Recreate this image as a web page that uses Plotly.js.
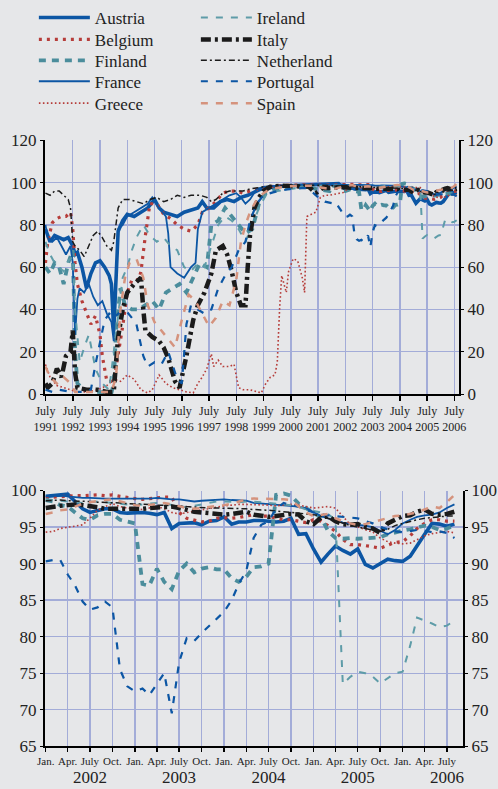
<!DOCTYPE html>
<html><head><meta charset="utf-8">
<script src="https://cdn.plot.ly/plotly-3.0.1.min.js"></script>
<style>html,body{margin:0;padding:0;background:#e6e7e9;}#chart{width:498px;height:789px;}</style>
</head><body><div id="chart"></div>
<script>
// ---------- DATA ----------
// Early (1991-2001) readings, irregular dates
const austriaEarlyDates = ["1991-07","1991-09","1991-11","1992-01","1992-03","1992-05","1992-07","1992-08","1992-09","1992-11","1993-01","1993-03","1993-05","1993-07","1993-09","1993-11","1993-12","1994-01","1994-02","1994-03","1994-05","1994-07","1994-10","1995-01","1995-04","1995-07","1995-09","1995-11","1996-02","1996-05","1996-08","1996-11","1997-02","1997-04","1997-06","1997-09","1997-12","1998-03","1998-06","1998-09","1998-12","1999-03","1999-06","1999-09","1999-12","2000-06","2000-12","2001-06","2001-12"];
const austriaEarlyValues = [78,72,75,74,73,74,70,66,67,60,50,57,62,63,60,56,52,30,58,77,82,85,84,86,88,92,88,86,85,84,86,87,88,91,88,88,91,92,91,93,94,95.5,97,97.5,98,98.5,98.8,99,99.2];

const belgiumEarlyDates = ["1991-07","1991-08","1991-10","1991-12","1992-02","1992-04","1992-06","1992-07","1992-08","1992-09","1992-11","1993-01","1993-03","1993-05","1993-07","1993-08","1993-09","1993-10","1994-01","1994-03","1994-05","1994-07","1994-09","1994-12","1995-01","1995-03","1995-05","1995-08","1995-11","1996-02","1996-05","1996-08","1996-11","1997-02","1997-04","1997-07","1997-10","1998-01","1998-04","1998-07","1998-10","1999-01","1999-06","2000-01","2000-07","2001-01","2001-07","2001-12"];
const belgiumEarlyValues = [62,72,81,83,84,84,86,78,62,52,44,38,33,37,28,18,12,6,6,18,32,48,54,54,58,75,90,90,85,83,80,78,77,80,86,88,91,95,96,96,95,96,97.5,98.5,98.8,99,98.8,99];

const finlandEarlyDates = ["1991-07","1991-09","1991-11","1992-01","1992-03","1992-05","1992-07","1992-08","1992-09","1992-12","1993-06","1993-12","1994-01","1994-02","1994-04","1994-06","1994-09","1994-12","1995-03","1995-06","1995-09","1995-12","1996-03","1996-06","1996-09","1996-12","1997-03","1997-06","1997-08","1997-11","1998-02","1998-05","1998-08","1998-11","1999-02","1999-05","1999-08","2000-01","2000-07","2001-01","2001-06","2001-12"];
const finlandEarlyValues = [60,57,62,60,52,62,68,20,5,2,1,0.5,5,30,50,42,40,40,42,44,40,48,50,52,48,55,62,60,80,82,88,84,80,76,78,90,95,97,98,98.5,97,96];

const franceEarlyDates = ["1991-07","1991-08","1991-10","1991-12","1992-02","1992-04","1992-06","1992-07","1992-08","1992-09","1992-10","1992-12","1993-02","1993-04","1993-06","1993-08","1993-10","1993-12","1994-01","1994-02","1994-03","1994-05","1994-07","1994-10","1995-01","1995-04","1995-06","1995-09","1995-12","1996-01","1996-02","1996-05","1996-08","1996-11","1997-01","1997-02","1997-04","1997-07","1997-10","1998-01","1998-04","1998-07","1998-09","1998-11","1999-01","1999-04","1999-07","2000-01","2000-07","2001-01","2001-07","2001-12"];
const franceEarlyValues = [80,74,72,74,70,66,70,62,28,45,50,48,52,46,42,44,38,34,25,50,78,80,84,86,88,90,93,88,84,76,60,57,55,60,62,78,86,88,90,92,94,95,93,90,92,97,98,98.5,98.8,99,99,99.1];

const greeceEarlyDates = ["1991-07","1991-09","1991-12","1992-03","1992-06","1992-09","1993-01","1993-06","1993-10","1994-01","1994-04","1994-07","1994-10","1995-01","1995-04","1995-06","1995-09","1995-12","1996-03","1996-06","1996-09","1996-12","1997-02","1997-04","1997-06","1997-08","1997-09","1997-11","1998-01","1998-04","1998-06","1998-08","1998-10","1999-01","1999-04","1999-06","1999-08","1999-10","1999-12","2000-01","2000-02","2000-03","2000-05","2000-06","2000-08","2000-10","2000-12","2001-01","2001-02","2001-04","2001-06","2001-08","2001-10","2001-12"];
const greeceEarlyValues = [14,8,4,3,2,1,1,2,4,7,6,9,7,2,0.5,2,9,5,3,2,1,0.5,5,8,12,19,13,16,13,13,14,3,2,2,1,0.5,5,8,9,15,40,56,48,58,64,63,55,48,84,85,86,93,94,94];

const irelandEarlyDates = ["1991-07","1991-09","1991-11","1992-01","1992-03","1992-05","1992-07","1992-08","1992-10","1992-12","1993-02","1993-05","1993-08","1993-11","1994-01","1994-03","1994-05","1994-07","1994-09","1994-11","1995-02","1995-05","1995-08","1995-11","1996-02","1996-05","1996-08","1996-11","1997-02","1997-05","1997-08","1997-11","1998-02","1998-05","1998-08","1998-11","1999-02","1999-05","1999-08","2000-01","2000-07","2001-01","2001-07","2001-12"];
const irelandEarlyValues = [72,66,62,60,58,63,65,40,15,22,28,12,5,2,20,38,55,60,68,74,80,75,72,74,70,68,60,58,62,60,70,80,84,82,78,72,80,88,94,96,97,98,98.5,98.6];

const italyEarlyDates = ["1991-07","1991-08","1991-10","1991-12","1992-02","1992-04","1992-06","1992-07","1992-08","1992-09","1993-01","1993-06","1993-10","1994-01","1994-02","1994-03","1994-05","1994-07","1994-10","1995-01","1995-02","1995-03","1995-06","1995-09","1995-11","1996-01","1996-04","1996-06","1996-09","1996-12","1997-02","1997-05","1997-08","1997-10","1998-01","1998-03","1998-05","1998-07","1998-09","1998-11","1998-12","1999-01","1999-03","1999-05","1999-07","1999-10","2000-03","2000-09","2001-03","2001-06","2001-09","2001-12"];
const italyEarlyValues = [5,3,5,12,8,18,20,30,10,3,2,2,1,1,15,27,40,48,52,55,40,30,27,25,22,17,6,3,18,35,42,48,57,68,70,66,58,48,42,42,60,75,88,93,96,98,98.5,98.5,98,95,97.5,97.5];

const netherlandEarlyDates = ["1991-07","1991-09","1991-11","1992-01","1992-03","1992-05","1992-06","1992-07","1992-08","1992-10","1992-12","1993-02","1993-04","1993-06","1993-08","1993-10","1993-12","1994-01","1994-03","1994-05","1994-08","1994-11","1995-02","1995-05","1995-08","1995-11","1996-02","1996-05","1996-08","1996-11","1997-03","1997-06","1997-08","1997-10","1998-01","1998-04","1998-07","1998-10","1999-01","1999-07","2000-01","2000-07","2001-01","2001-07","2001-12"];
const netherlandEarlyValues = [95,94,96,96,94,92,88,72,70,68,65,70,75,77,74,70,68,72,88,92,92,91,90,92,93,91,92,94,93,94,94,93,91,92,95,96,96,96,97,98,98.5,98.8,98.8,98.8,98.6];

const portugalEarlyDates = ["1991-07","1991-10","1992-01","1992-06","1993-01","1993-03","1993-05","1993-07","1993-09","1993-11","1994-01","1994-03","1994-06","1994-09","1994-11","1995-02","1995-04","1995-07","1995-10","1996-01","1996-03","1996-05","1996-07","1996-09","1996-11","1997-02","1997-05","1997-08","1997-11","1998-02","1998-05","1998-08","1998-11","1999-01","1999-04","1999-07","2000-01","2000-07","2001-01","2001-05","2001-07","2001-10","2001-12"];
const portugalEarlyValues = [2,1,2,1,1,2,14,25,35,38,36,38,40,36,33,18,13,15,14,20,13,7,5,33,42,40,38,40,50,56,60,68,72,82,90,94,96,97,97.5,95,93,91,90.5];

const spainEarlyDates = ["1991-07","1991-09","1991-12","1992-03","1992-06","1992-08","1993-01","1993-06","1993-12","1994-02","1994-04","1994-06","1994-08","1994-11","1995-02","1995-04","1995-07","1995-10","1996-01","1996-04","1996-07","1996-10","1997-01","1997-04","1997-07","1997-10","1998-01","1998-04","1998-07","1998-09","1998-11","1999-01","1999-04","1999-07","1999-10","2000-04","2000-10","2001-04","2001-10","2001-12"];
const spainEarlyValues = [13,8,5,8,5,1,1,1,1,8,40,55,62,64,55,42,34,30,26,22,35,47,44,38,32,36,44,42,54,72,80,86,92,95,97,98,98.5,98.5,97.5,97];

// Monthly readings, January 2002 to August 2006 (56 months)
const monthlyStartYear = 2002;
const austriaMonthly = [99.2,99.3,99.5,99.5,98.5,97.5,97.0,97.3,97.5,97.5,97.0,96.9,
  97.0,97.0,96.9,96.7,97.0,94.8,95.5,95.6,95.6,95.3,95.8,95.9,
  96.4,95.4,95.7,95.7,95.9,95.9,95.8,95.7,95.8,96.2,94.0,94.1,
  92.0,90.2,91.3,92.4,91.8,91.3,92.0,89.9,89.4,90.0,90.6,90.4,
  90.3,91.0,92.5,94.0,95.5,95.4,95.1,95.4];
const belgiumMonthly = [99.0,99.1,99.2,99.2,99.3,99.3,99.4,99.4,99.3,99.4,99.2,99.0,
  98.9,98.8,98.9,99.0,99.1,99.1,97.0,96.2,95.9,95.7,95.8,96.2,
  96.3,96.2,96.3,96.5,96.7,96.5,96.5,96.2,96.0,96.0,95.8,95.6,
  96.0,95.8,95.2,94.4,93.3,92.6,92.6,92.5,92.3,92.1,92.5,92.9,
  93.0,93.8,94.8,95.5,96.0,96.0,95.8,95.8];
const finlandMonthly = [98.7,98.5,98.0,97.8,97.0,96.2,96.0,96.6,96.8,96.8,96.0,95.8,
  95.5,87.2,87.0,89.3,87.5,86.5,89.0,90.0,88.8,89.3,89.5,89.2,
  89.2,88.0,87.5,88.2,89.5,89.6,90.0,99.4,99.6,99.3,98.2,97.6,
  97.0,96.3,94.5,93.5,93.4,93.5,93.4,93.5,93.5,93.6,94.0,94.3,
  94.5,94.7,95.0,95.2,95.0,94.6,94.8,95.2];
const franceMonthly = [99.2,99.3,99.3,99.2,99.1,99.0,99.0,98.9,98.9,98.9,98.9,98.8,
  98.8,98.8,98.9,99.0,98.9,98.8,98.8,98.6,98.5,98.6,98.7,98.7,
  98.8,98.7,98.7,98.6,98.3,98.2,98.1,98.0,98.0,97.9,97.8,97.6,
  97.0,96.5,96.2,96.0,95.6,95.4,95.3,95.2,95.0,94.5,94.0,94.6,
  95.5,96.0,96.4,96.6,96.7,97.0,97.6,98.1];
const greeceMonthly = [94.3,94.4,94.8,95.0,95.1,95.3,96.2,97.3,97.8,98.2,97.8,97.6,
  97.5,97.4,97.6,97.8,97.5,97.0,96.8,97.0,97.2,97.4,97.6,97.8,
  97.9,98.0,98.1,98.1,98.1,98.0,98.0,97.9,98.0,98.1,98.0,97.8,
  97.6,97.7,97.8,97.6,96.5,95.3,95.0,94.6,94.3,93.5,93.0,92.8,
  92.7,92.8,93.3,93.8,94.1,94.3,94.4,94.2];
const irelandMonthly = [98.8,98.7,98.6,98.5,98.4,98.3,98.4,98.5,98.4,98.3,98.2,98.1,
  98.0,98.1,98.2,98.3,98.2,98.0,97.8,97.7,97.9,98.1,98.3,98.5,
  98.5,98.4,98.4,98.5,98.5,98.4,98.3,98.2,98.2,98.0,97.8,97.4,
  97.2,97.0,96.8,96.0,73.5,74.5,75.2,75.0,74.5,73.6,74.3,75.0,
  75.2,78.8,82.6,82.2,81.8,81.3,81.5,82.2];
const italyMonthly = [97.6,97.8,97.9,98.0,98.1,98.0,97.9,97.7,97.5,97.5,97.4,97.5,
  97.5,97.5,97.6,97.7,97.8,97.8,97.6,97.3,97.1,97.0,96.9,96.8,
  96.7,96.8,97.0,97.1,96.7,96.5,96.4,96.5,96.6,96.8,96.7,95.8,
  95.4,96.3,96.5,95.8,95.4,95.3,95.4,95.0,94.8,94.2,95.5,96.0,
  96.5,96.6,97.1,97.4,96.8,96.7,96.8,97.1];
const netherlandMonthly = [98.6,98.7,98.7,98.6,98.6,98.5,98.5,98.4,98.4,98.3,98.3,98.2,
  98.2,98.2,98.1,98.0,98.0,97.9,97.9,97.8,97.7,97.6,97.6,97.6,
  97.6,97.6,97.5,97.5,97.4,97.4,97.3,97.2,97.1,97.0,96.9,96.8,
  96.7,96.5,96.2,95.8,95.5,95.2,95.0,94.8,94.6,94.4,94.7,95.2,
  95.5,95.8,96.0,96.2,96.3,96.4,96.5,96.5];
const portugalMonthly = [90.3,90.5,90.5,88.5,87.0,84.8,83.7,84.0,84.8,84.0,75.5,73.2,
  72.5,72.9,72.0,73.5,75.0,69.5,76.5,79.8,79.4,80.5,81.5,82.5,
  83.4,85.0,87.2,89.0,93.5,95.3,95.8,97.5,98.3,98.0,97.8,97.4,
  97.0,96.8,96.6,96.5,96.4,96.3,96.2,95.8,95.5,95.0,94.7,94.4,
  94.3,94.5,94.6,94.5,94.3,94.4,94.2,93.5];
const spainMonthly = [96.8,97.0,97.3,97.4,97.8,98.2,98.4,98.6,98.7,98.8,98.5,98.2,
  98.0,97.9,98.0,98.2,98.3,98.1,97.9,97.6,97.5,97.6,97.8,97.9,
  98.0,98.2,98.5,98.8,98.9,98.9,98.8,98.8,98.8,98.7,97.8,97.0,
  96.5,96.7,96.8,96.2,95.8,95.5,95.3,95.4,95.7,96.0,96.2,96.5,
  96.6,96.8,97.0,97.4,97.8,97.6,98.4,99.4];

// Tick labels
const topTickYears = [1991,1992,1993,1994,1995,1996,1997,1998,1999,2000,2001,2002,2003,2004,2005,2006];
const quarterLabels = ["Jan.","Apr.","July","Oct."];
const bottomYears = [2002,2003,2004,2005,2006];

// ---------- BUILD ----------
const monthDates = austriaMonthly.map((_, i) => {
  const y = monthlyStartYear + Math.floor(i / 12), m = (i % 12) + 1;
  return y + "-" + String(m).padStart(2, "0") + "-01";
});
const fixDate = d => d + "-01";

const BLUE = "#0c56a4", RED = "#b63d3a", TEAL = "#4b8d9c", TEAL2 = "#5e9ca8", BLACK = "#1b1b1b", SALMON = "#d5937d";
// legend: row (1..5) and column (1..2) in the two-column key
const series = [
  {name:"Austria", ed:austriaEarlyDates, ev:austriaEarlyValues, mv:austriaMonthly, line:{color:BLUE,width:3.6}, row:1, col:1},
  {name:"Belgium", ed:belgiumEarlyDates, ev:belgiumEarlyValues, mv:belgiumMonthly, line:{color:RED,width:3.2,dash:"3px,5px"}, row:2, col:1},
  {name:"Finland", ed:finlandEarlyDates, ev:finlandEarlyValues, mv:finlandMonthly, line:{color:TEAL,width:3.8,dash:"7px,6px"}, row:3, col:1},
  {name:"France", ed:franceEarlyDates, ev:franceEarlyValues, mv:franceMonthly, line:{color:BLUE,width:1.8}, row:4, col:1},
  {name:"Greece", ed:greeceEarlyDates, ev:greeceEarlyValues, mv:greeceMonthly, line:{color:RED,width:1.6,dash:"1.6px,2.4px"}, row:5, col:1},
  {name:"Ireland", ed:irelandEarlyDates, ev:irelandEarlyValues, mv:irelandMonthly, line:{color:TEAL2,width:2,dash:"7px,8px"}, row:1, col:2},
  {name:"Italy", ed:italyEarlyDates, ev:italyEarlyValues, mv:italyMonthly, line:{color:BLACK,width:4.5,dash:"10px,4px,3px,4px"}, row:2, col:2},
  {name:"Netherland", ed:netherlandEarlyDates, ev:netherlandEarlyValues, mv:netherlandMonthly, line:{color:BLACK,width:1.5,dash:"6px,3px,2px,3px"}, row:3, col:2},
  {name:"Portugal", ed:portugalEarlyDates, ev:portugalEarlyValues, mv:portugalMonthly, line:{color:BLUE,width:2.2,dash:"7px,8px"}, row:4, col:2},
  {name:"Spain", ed:spainEarlyDates, ev:spainEarlyValues, mv:spainMonthly, line:{color:SALMON,width:2.5,dash:"7px,8px"}, row:5, col:2}
];

const legendIds = ["legend","legend2","legend3","legend4","legend5"];
const traces = [];
series.forEach(s => {
  traces.push({type:"scatter", mode:"lines", name:s.name, legend:legendIds[s.row-1], legendrank:s.col,
    x: s.ed.map(fixDate).concat(monthDates), y: s.ev.concat(s.mv),
    xaxis:"x", yaxis:"y", line:s.line, hoverinfo:"skip"});
});
series.forEach(s => {
  traces.push({type:"scatter", mode:"lines", name:s.name, showlegend:false,
    x: monthDates, y: s.mv, xaxis:"x2", yaxis:"y2", line:s.line, hoverinfo:"skip"});
});
// helpers so the right-hand axes and year axis are drawn
traces.push({type:"scatter", x:[], y:[], xaxis:"x", yaxis:"y3", showlegend:false, hoverinfo:"skip"});
traces.push({type:"scatter", x:[], y:[], xaxis:"x2", yaxis:"y4", showlegend:false, hoverinfo:"skip"});
traces.push({type:"scatter", x:[], y:[], xaxis:"x3", yaxis:"y2", showlegend:false, hoverinfo:"skip"});

const FONT = "Liberation Serif, Times New Roman, serif";
const GRID = "#a3acd8";
const BG = "#e6e7e9";

const topTickVals = topTickYears.map(y => y + "-07-01");
const topTickText = topTickYears.map(y => "July<br>" + y);
const botTickVals = [], botTickText = [];
bottomYears.forEach(y => quarterLabels.forEach((q, i) => {
  const d = y + "-" + String(1 + 3 * i).padStart(2, "0") + "-01";
  if (d <= "2006-07-01") { botTickVals.push(d); botTickText.push(q); }
}));
const yearVals = bottomYears.map(y => y + "-07-01");
const yearText = bottomYears.map(String);

const topDomainX = [45/498, 459/498];
const botDomainX = [45/498, 463/498];
const topDomainY = [(789-392)/789, (789-137)/789];
const botDomainY = [(789-746)/789, (789-489)/789];
const topRange = ["1991-06-25", "2006-09-01"];
const botRange = ["2001-12-29", "2006-09-05"];

const yCommon = {showgrid:true, gridcolor:GRID, gridwidth:1.3, zeroline:false, showline:true,
  linecolor:"#000", linewidth:2, ticks:"outside", ticklen:3, tickcolor:"#000",
  tickfont:{family:FONT, size:17, color:"#222"}, fixedrange:true};

const layout = {
  width:498, height:789, paper_bgcolor:BG, plot_bgcolor:BG,
  margin:{l:0, r:0, t:0, b:0},
  font:{family:FONT, color:"#222"},
  showlegend:true,
  xaxis:{domain:topDomainX, anchor:"y", type:"date", range:topRange,
    tickmode:"array", tickvals:topTickVals, ticktext:topTickText,
    tickfont:{family:FONT, size:12, color:"#222"}, showgrid:true, gridcolor:GRID, gridwidth:1.3,
    showline:true, linecolor:"#000", linewidth:2, ticks:"outside", ticklen:5, tickcolor:"#000", tickwidth:1.5,
    zeroline:false, fixedrange:true},
  yaxis:Object.assign({}, yCommon, {domain:topDomainY, anchor:"x", range:[0,120], dtick:20, tick0:0}),
  yaxis3:Object.assign({}, yCommon, {overlaying:"y", side:"right", anchor:"x", range:[0,120], dtick:20, tick0:0, showgrid:false}),
  xaxis2:{domain:botDomainX, anchor:"y2", type:"date", range:botRange,
    tickmode:"array", tickvals:botTickVals, ticktext:botTickText,
    tickfont:{family:FONT, size:11, color:"#222"}, showgrid:true, gridcolor:GRID, gridwidth:1.3,
    showline:true, linecolor:"#000", linewidth:2, ticks:"outside", ticklen:4, tickcolor:"#000", tickwidth:1.5,
    zeroline:false, fixedrange:true},
  xaxis3:{overlaying:"x2", anchor:"y2", side:"bottom", type:"date", range:botRange,
    tickmode:"array", tickvals:yearVals, ticktext:yearText, ticks:"", showgrid:false, showline:false,
    zeroline:false, ticklabelstandoff:19, tickfont:{family:FONT, size:17, color:"#222"}, fixedrange:true},
  yaxis2:Object.assign({}, yCommon, {domain:botDomainY, anchor:"x2", range:[65,100], dtick:5, tick0:65}),
  yaxis4:Object.assign({}, yCommon, {overlaying:"y2", side:"right", anchor:"x2", range:[65,100], dtick:5, tick0:65, showgrid:false})
};

// five one-row legends, one per key row, placed at the key's row centres
const legendRowCentres = [16, 38, 59, 80, 102];
legendIds.forEach((id, i) => {
  layout[id] = {orientation:"h", x:0.068, xanchor:"left", yanchor:"top",
    y:(789 - (legendRowCentres[i] - 20)) / 789,
    entrywidth:96, entrywidthmode:"pixels", itemwidth:51, traceorder:"normal",
    font:{family:FONT, size:17, color:"#222"}, bgcolor:"rgba(0,0,0,0)"};
});

Plotly.newPlot("chart", traces, layout, {displayModeBar:false, staticPlot:true});
</script></body></html>
